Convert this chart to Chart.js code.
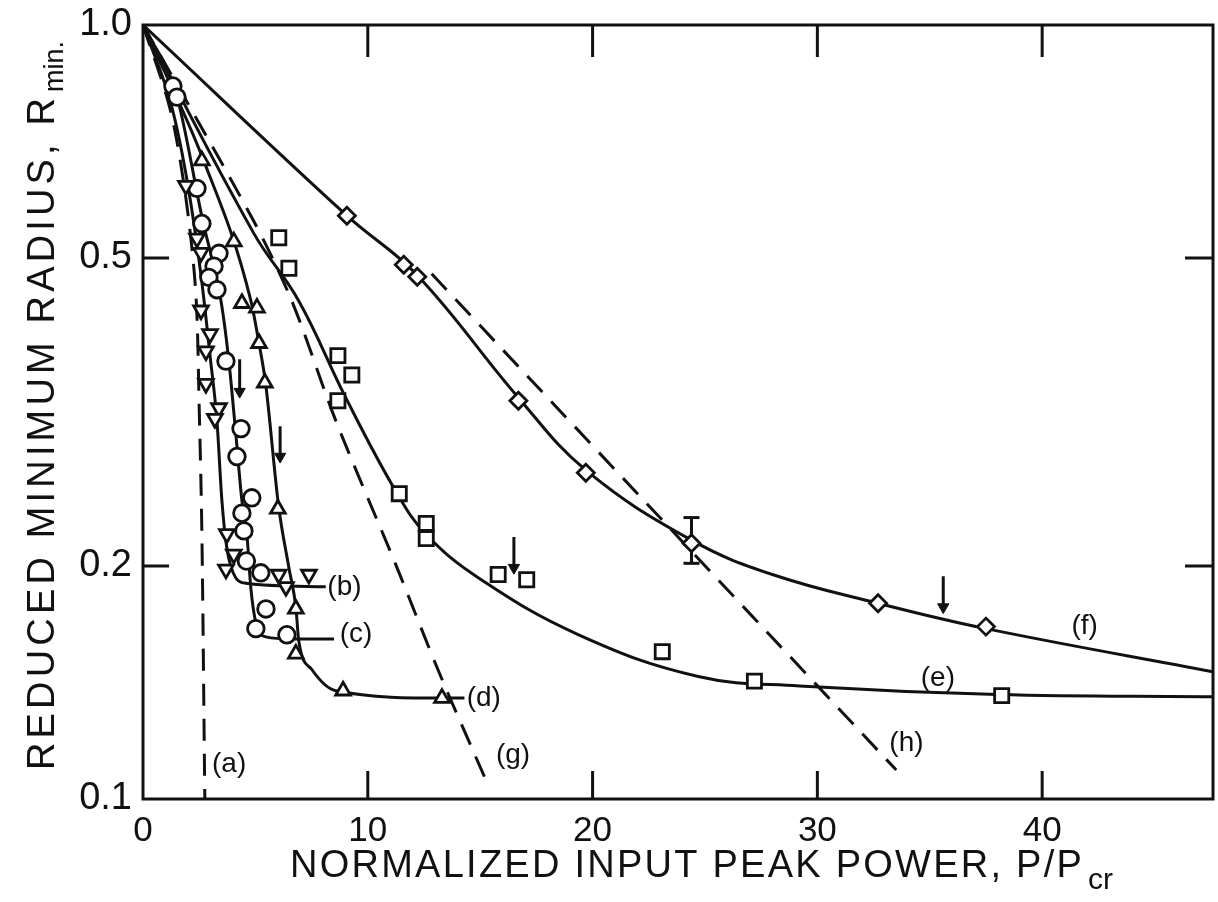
<!DOCTYPE html>
<html>
<head>
<meta charset="utf-8">
<script src="https://cdn.jsdelivr.net/npm/chart.js@4/dist/chart.umd.min.js"></script>
<style>
  html, body { margin: 0; padding: 0; background: #fff; overflow: hidden; }
  #wrap { width: 1218px; height: 902px; }
  canvas { display: block; }
</style>
</head>
<body>
<div id="wrap"><canvas id="c" width="1218" height="902"></canvas></div>
<script>
// ---------- axes ----------
const xTicks = [0, 10, 20, 30, 40];
const xMax = 47.6;
const yTicks = [0.1, 0.2, 0.5, 1.0];
const yTickLabels = ['0.1', '0.2', '0.5', '1.0'];
const xTitle = 'NORMALIZED INPUT PEAK POWER, P/P';
const xTitleSub = 'cr';
const yTitle = 'REDUCED MINIMUM RADIUS, R';
const yTitleSub = 'min.';

// ---------- measured points ----------
// (b) down-pointing triangles
const bX = [1.91, 2.4, 2.58, 2.58, 2.98, 2.8, 2.8, 3.38, 3.2, 3.73, 4.04, 3.69, 6.04, 7.38, 6.36];
const bY = [0.620, 0.530, 0.508, 0.428, 0.399, 0.379, 0.344, 0.320, 0.310, 0.220, 0.207, 0.198, 0.195, 0.195, 0.188];
// (c) circles
const cX = [1.33, 1.51, 2.4, 2.62, 3.38, 3.16, 2.93, 3.29, 3.69, 4.36, 4.18, 4.84, 4.4, 4.49, 4.6, 5.24, 5.47, 5.02, 6.4];
const cY = [0.834, 0.807, 0.615, 0.554, 0.507, 0.488, 0.472, 0.455, 0.368, 0.301, 0.277, 0.245, 0.234, 0.222, 0.203, 0.196, 0.176, 0.166, 0.163];
// (d) up-pointing triangles
const dX = [2.62, 4.04, 4.4, 5.07, 5.16, 5.42, 6.0, 6.8, 6.8, 8.9, 13.3];
const dY = [0.668, 0.525, 0.437, 0.431, 0.388, 0.345, 0.237, 0.176, 0.154, 0.138, 0.135];
// (e) squares
const eX = [6.04, 6.49, 8.67, 9.29, 8.67, 11.4, 12.6, 12.6, 15.8, 17.07, 23.1, 27.2, 38.2];
const eY = [0.531, 0.485, 0.374, 0.353, 0.327, 0.248, 0.227, 0.217, 0.195, 0.192, 0.155, 0.142, 0.136];
// (f) diamonds
const fX = [9.07, 11.6, 12.2, 16.7, 19.7, 24.4, 32.7, 37.5];
const fY = [0.567, 0.490, 0.473, 0.327, 0.264, 0.214, 0.179, 0.167];
// error bar on (f) point at 24.4
const errX = 24.4;
const errLow = 0.2016;
const errHigh = 0.231;

// ---------- curves ----------
const curveAX = [0, 1.2, 1.9, 2.35, 2.5, 2.62, 2.75];
const curveAY = [1.0, 0.78, 0.60, 0.45, 0.32, 0.22, 0.1];
const curveBX = [0, 1.3, 2.0, 2.6, 3.0, 3.29, 3.51, 3.73, 4.13, 4.58, 8.13];
const curveBY = [1.0, 0.78, 0.62, 0.47, 0.37, 0.308, 0.243, 0.211, 0.193, 0.190, 0.188];
const curveCX = [0, 1.5, 2.65, 3.47, 3.82, 4.13, 4.4, 4.62, 4.8, 5.02, 5.47, 6.62, 8.5];
const curveCY = [1.0, 0.81, 0.56, 0.44, 0.368, 0.296, 0.243, 0.220, 0.187, 0.169, 0.162, 0.161, 0.161];
const curveDX = [0, 2.7, 4.8, 5.16, 5.45, 6.04, 6.49, 6.8, 6.93, 7.51, 8.58, 13.47, 14.3];
const curveDY = [1.0, 0.668, 0.44, 0.388, 0.345, 0.238, 0.199, 0.177, 0.160, 0.147, 0.138, 0.135, 0.135];
const curveEX = [0, 4.93, 6.93, 9.02, 11.24, 12.58, 14.93, 19.38, 24.7, 29.2, 38.0, 47.6];
const curveEY = [1.0, 0.538, 0.44, 0.33, 0.25, 0.22, 0.193, 0.163, 0.144, 0.140, 0.1365, 0.1356];
const curveFX = [0, 9.07, 12.2, 16.7, 19.7, 24.4, 28.0, 32.7, 37.5, 47.6];
const curveFY = [1.0, 0.567, 0.475, 0.330, 0.266, 0.216, 0.195, 0.179, 0.166, 0.146];
const curveGX = [0, 4.84, 6.62, 8.58, 11.24, 13.16, 15.24];
const curveGY = [1.0, 0.564, 0.44, 0.308, 0.201, 0.146, 0.106];
const curveHX = [12.84, 33.51];
const curveHY = [0.477, 0.109];

// ---------- arrows (downward) ----------
const arrowX = [4.3, 6.1, 16.5, 35.6];
const arrowTop = [0.370, 0.303, 0.218, 0.194];
const arrowHead = [0.336, 0.277, 0.199, 0.177];

// ---------- curve labels ----------
const labelText = ['(a)', '(b)', '(c)', '(d)', '(e)', '(f)', '(g)', '(h)'];
const labelX = [3.07, 8.2, 8.75, 14.4, 34.6, 41.3, 15.7, 33.2];
const labelY = [0.111, 0.188, 0.163, 0.135, 0.143, 0.167, 0.114, 0.118];

// ---------- helpers ----------
const pts = (xs, ys) => xs.map((x, i) => ({ x: x, y: ys[i] }));
const INK = '#111';

function markerSet(xs, ys, style, radius, rotation) {
  return {
    type: 'scatter', data: pts(xs, ys), showLine: false, order: 0,
    pointStyle: style, pointRadius: radius, pointRotation: rotation || 0,
    pointBackgroundColor: '#fff', pointBorderColor: INK, pointBorderWidth: 2.8
  };
}
function curveSet(xs, ys, mode) {
  const dashed = mode === 'dash';
  return {
    type: 'line', data: pts(xs, ys), showLine: true, order: 2,
    borderColor: INK, borderWidth: 3, borderDash: dashed ? [22, 13] : [],
    pointRadius: 0, fill: false,
    cubicInterpolationMode: mode === 'mono' ? 'monotone' : 'default',
    tension: mode === 'smooth' ? 0.4 : (dashed ? 0.3 : 0)
  };
}
const datasets = [
  markerSet(fX, fY, 'rectRot', 8.5),
  markerSet(eX, eY, 'rect', 10),
  markerSet(dX, dY, 'triangle', 8.5),
  markerSet(bX, bY, 'triangle', 8.5, 180),
  markerSet(cX, cY, 'circle', 8.3),
  curveSet(curveFX, curveFY, 'smooth'),
  curveSet(curveEX, curveEY, 'smooth'),
  curveSet(curveDX, curveDY, 'mono'),
  curveSet(curveCX, curveCY, 'mono'),
  curveSet(curveBX, curveBY, 'mono'),
  curveSet(curveAX, curveAY, 'dash'),
  curveSet(curveGX, curveGY, 'dash'),
  curveSet(curveHX, curveHY, 'dash'),
  {
    type: 'line', data: [{ x: errX, y: errHigh }, { x: errX, y: errLow }], order: 1,
    borderColor: INK, borderWidth: 3, pointStyle: 'line', pointRadius: 8,
    pointBorderColor: INK, pointBorderWidth: 3, showLine: true
  }
];
arrowX.forEach((ax, i) => {
  datasets.push({
    type: 'line', data: [{ x: ax, y: arrowTop[i] }, { x: ax, y: arrowHead[i] }], order: 1,
    borderColor: INK, borderWidth: 3, showLine: true,
    pointStyle: 'triangle', pointRotation: 180, pointRadius: [0, 6.5],
    pointBackgroundColor: INK, pointBorderColor: INK, pointBorderWidth: 1
  });
});

function fitText(ctx, text, target) {
  ctx.letterSpacing = '0px';
  const w = ctx.measureText(text).width;
  const sp = (target - w) / Math.max(1, text.length - 1);
  ctx.letterSpacing = sp.toFixed(2) + 'px';
}

const decor = {
  id: 'decor',
  afterDatasetsDraw(chart) {
    const { ctx, chartArea: a, scales: { x, y } } = chart;
    ctx.save();
    ctx.strokeStyle = INK; ctx.lineWidth = 3; ctx.lineCap = 'butt';
    ctx.strokeRect(a.left, a.top, a.right - a.left, a.bottom - a.top);
    const seg = (x1, y1, x2, y2) => { ctx.beginPath(); ctx.moveTo(x1, y1); ctx.lineTo(x2, y2); ctx.stroke(); };
    xTicks.forEach(v => {
      if (v === 0) return;
      const px = x.getPixelForValue(v);
      seg(px, a.bottom, px, a.bottom - 28);
      seg(px, a.top, px, a.top + 32);
    });
    yTicks.forEach(v => {
      if (v === yTicks[0] || v === yTicks[yTicks.length - 1]) return;
      const py = y.getPixelForValue(v);
      seg(a.left, py, a.left + 26, py);
      seg(a.right, py, a.right - 28, py);
    });
    // curve labels
    ctx.fillStyle = INK;
    ctx.font = '28px "Liberation Sans", Arial, sans-serif';
    ctx.textAlign = 'left'; ctx.textBaseline = 'middle';
    labelText.forEach((t, i) => {
      ctx.fillText(t, x.getPixelForValue(labelX[i]), y.getPixelForValue(labelY[i]));
    });
    // x title
    ctx.textBaseline = 'alphabetic';
    ctx.font = '38px "Liberation Sans", Arial, sans-serif';
    fitText(ctx, xTitle, 792);
    ctx.fillText(xTitle, 290, 877);
    ctx.letterSpacing = '0px';
    ctx.font = '30px "Liberation Sans", Arial, sans-serif';
    ctx.fillText(xTitleSub, 1088, 889);
    // y title
    ctx.save();
    ctx.translate(54, 770);
    ctx.rotate(-Math.PI / 2);
    ctx.font = '38px "Liberation Sans", Arial, sans-serif';
    fitText(ctx, yTitle, 672);
    ctx.fillText(yTitle, 0, 0);
    ctx.letterSpacing = '0px';
    ctx.font = '27px "Liberation Sans", Arial, sans-serif';
    ctx.fillText(yTitleSub, 678, 9);
    ctx.restore();
    ctx.restore();
  }
};

new Chart(document.getElementById('c'), {
  type: 'scatter',
  data: { datasets: datasets },
  options: {
    responsive: false,
    animation: false,
    layout: { autoPadding: false, padding: { left: 0, right: 5, top: 25, bottom: 0 } },
    plugins: { legend: { display: false }, tooltip: { enabled: false } },
    scales: {
      x: {
        type: 'linear', min: 0, max: xMax,
        afterBuildTicks: s => { s.ticks = xTicks.concat([xMax]).map(v => ({ value: v })); },
        afterFit: s => { s.height = 103; s.paddingLeft = 0; s.paddingRight = 0; },
        grid: { display: false, drawTicks: true, tickLength: 11 },
        border: { display: false },
        ticks: {
          color: INK, padding: 0, maxRotation: 0, autoSkip: false,
          font: { family: '"Liberation Sans", Arial, sans-serif', size: 35 },
          callback: v => (xTicks.indexOf(v) >= 0 ? String(v) : '')
        }
      },
      y: {
        type: 'logarithmic', min: 0.1, max: 1.0,
        afterBuildTicks: s => { s.ticks = yTicks.map(v => ({ value: v })); },
        afterFit: s => { s.width = 143; s.paddingTop = 0; s.paddingBottom = 0; },
        grid: { display: false, drawTicks: false },
        border: { display: false },
        ticks: {
          color: INK, padding: 11, autoSkip: false,
          font: { family: '"Liberation Sans", Arial, sans-serif', size: 38 },
          callback: v => { const i = yTicks.indexOf(v); return i >= 0 ? yTickLabels[i] : ''; }
        }
      }
    }
  },
  plugins: [decor]
});
</script>
</body>
</html>
